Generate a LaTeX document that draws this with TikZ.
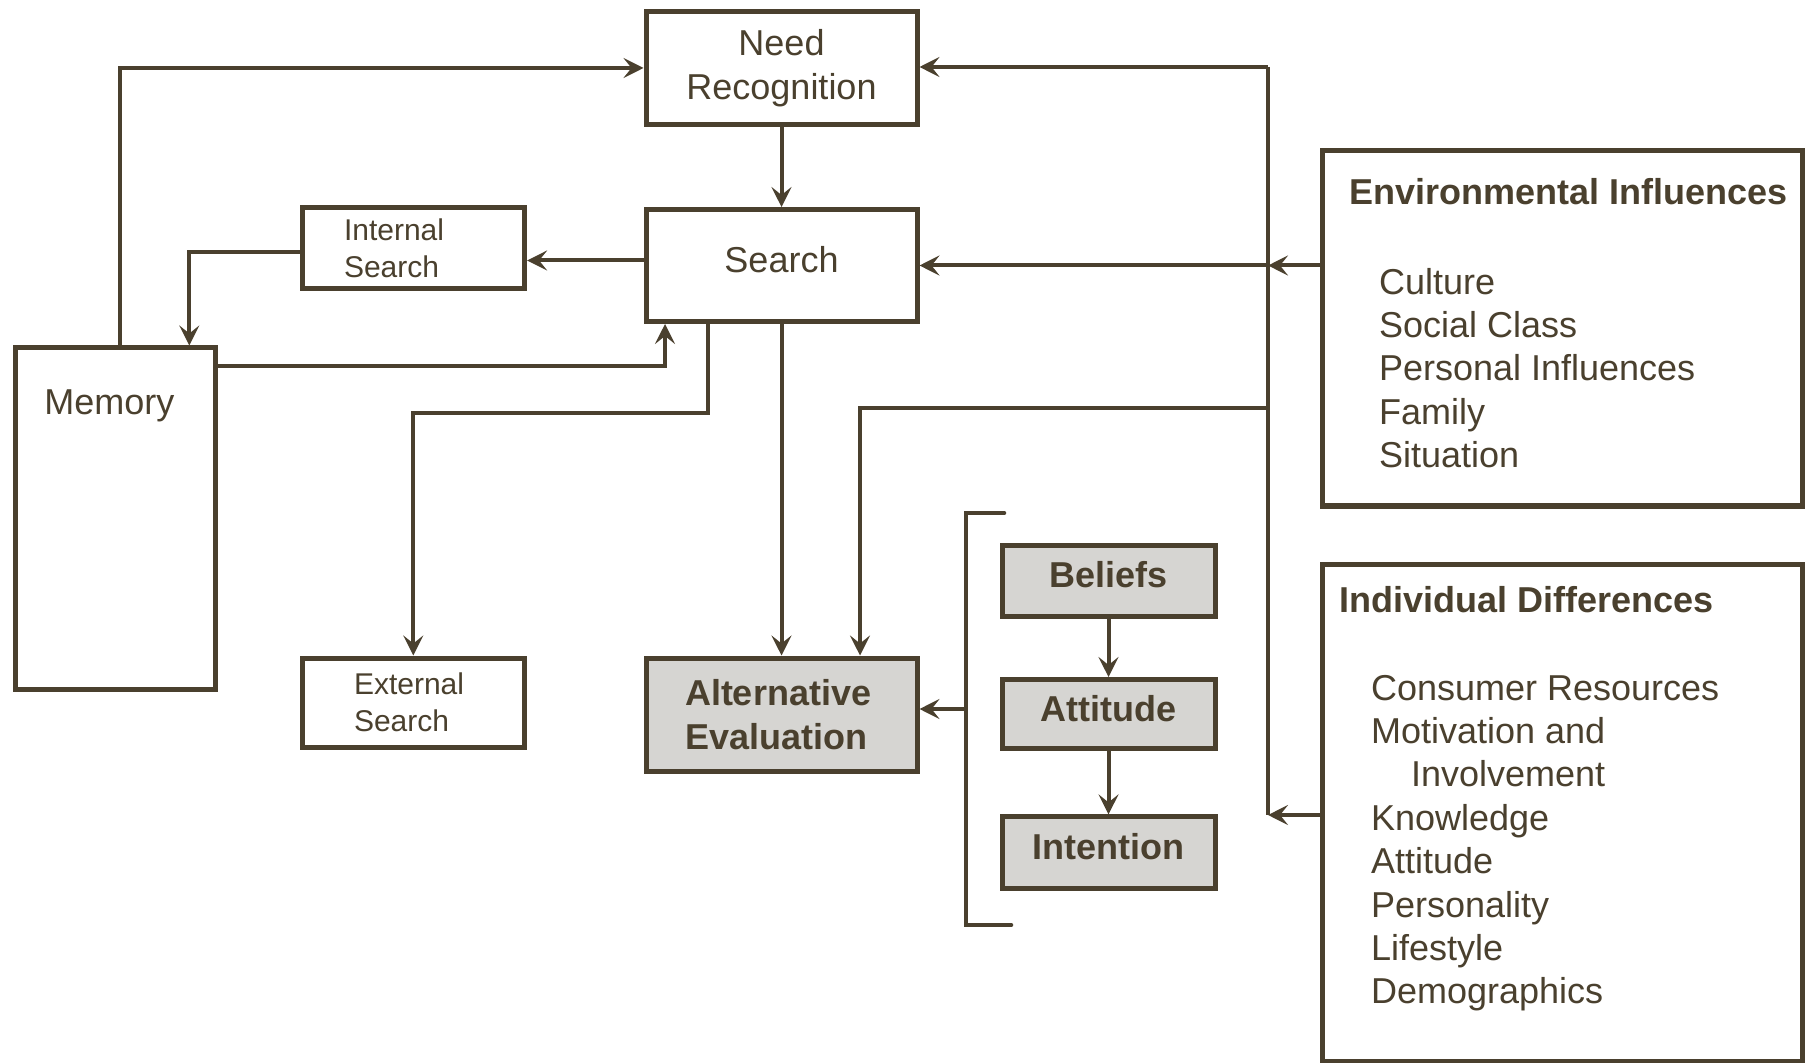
\documentclass[tikz,border=0pt]{standalone}
\usepackage{fontspec}
\setmainfont{Liberation Sans}
\usetikzlibrary{arrows.meta,calc,positioning}
\definecolor{Ink}{RGB}{74,64,46}
\definecolor{Shade}{RGB}{214,213,210}

\begin{document}
\begin{tikzpicture}[x=0.5pt, y=-0.5pt, >={Stealth[length=10pt,width=10pt,inset=4pt]},
       color=Ink, line width=2pt,
       every node/.style={font=\fontsize{18}{22}\selectfont, inner sep=0pt},
       stage/.style 2 args = {rectangle, draw, line width=2.5pt,
                              minimum width=#1, minimum height=#2},
       small/.style = {font=\fontsize{15}{18.5}\selectfont},
       shaded/.style = {fill=Shade, font=\fontsize{18}{22}\selectfont\bfseries},
       heading/.style = {anchor=west, font=\fontsize{18}{22}\selectfont\bfseries},
       factors/.style = {anchor=north west, align=left, font=\fontsize{18}{21.7}\selectfont}]
	%% Canvas
	\fill[white] (0,0) rectangle (1808,1063);
	\useasboundingbox (0,0) rectangle (1808,1063);

	%% Decision stages
	\node [stage={135.5pt}{56.5pt}, align=center, text depth=4pt] (need) at (781.5,68) {Need\\Recognition};
	\node [stage={135.5pt}{56pt}, text depth=6pt, below=40pt of need] (search) {Search};
	\node [stage={135.5pt}{56.5pt}, shaded, text width=96.5pt, inner xsep=19.5pt, align=left]
	      (alteval) at (781.5,714.5) {Alternative\\Evaluation};

	%% Search branches
	\node [stage={111.3pt}{40.3pt}, small, text width=69.3pt, inner xsep=21pt, align=left]
	      (internal) at (413.3,247.8) {Internal\\Search};
	\node [stage={111.3pt}{44.5pt}, small, text width=59.3pt, inner xsep=26pt, align=left]
	      (external) at (413.3,702.5) {External\\Search};

	%% Memory
	\node [stage={100.3pt}{170.8pt}] (memory) at (115.3,518.8) {};
	\node (memtext) at ($(memory.north)+(-6,60)$) {Memory};

	%% Beliefs, attitude, intention
	\node [stage={106.5pt}{35.5pt}, shaded, text depth=6pt] (beliefs) at (1108.5,580.5) {Beliefs};
	\node [stage={106.5pt}{34.6pt}, shaded, text depth=6pt, below=29.25pt of beliefs] (attitude) {Attitude};
	\node [stage={106.5pt}{35.8pt}, shaded, text depth=6pt, below=31.6pt of attitude] (intention) {Intention};

	%% Influences
	\node [stage={240pt}{177.5pt}] (envinf) at (1562,328.5) {};
	\node [heading] (envtitle) at (1347,191.4) {Environmental Influences};
	\node [factors] (envlist) at (1377,266)
	      {Culture\\Social Class\\Personal Influences\\Family\\Situation};

	\node [stage={240pt}{248.5pt}] (indiff) at (1562,812.5) {};
	\node [heading] (indtitle) at (1337.5,599.6) {Individual Differences};
	\node [factors] (indlist) at (1369,673)
	      {Consumer Resources\\Motivation and\\\hspace*{20pt}Involvement\\Knowledge\\Attitude\\Personality\\Lifestyle\\Demographics};

	%% Bracket
	\coordinate (brtop) at (1004,513);
	\coordinate (brbot) at (1011,925);
	\coordinate (brmid) at (966,709);
	\draw [line width=2.3pt, line cap=round] (brtop) -| (brmid) |- (brbot);

	%% Feedback line
	\coordinate (fbtop) at (1268,67);
	\coordinate (fbbot) at (1268,815);
	\coordinate (fbmid) at (1268,408);
	\draw (fbtop) -- (fbbot);

	%% Paths
	\draw[->] (need) -- (search);
	\draw[->] (search) -- (alteval);
	\draw[->] (fbtop) -- (need.east |- fbtop);
	\draw[->] (envinf.west |- search.east) -- (search.east -| fbtop);
	\draw[->] (search.east -| fbtop) -- (search.east);
	\draw[->] (indiff.west |- fbbot) -- (fbbot);
	\draw[->] (fbmid) -| ($(alteval.north)+(78.5,0)$);
	\path ($(search.west)+(0,-5)$) coordinate (sw);
	\draw[->] (sw) -- (sw -| internal.east);
	\draw[->] ($(internal.west)+(0,4)$) -| ($(memory.north)+(74,0)$);
	\draw[->] ($(memory.north)+(5,0)$) |- (need.west);
	\draw[->] ($(memory.north east)+(0,21)$) -| ($(search.south)+(-116.5,0)$);
	\draw[->] ($(search.south)+(-73.5,0)$) -- ++(0,88.6) -| (external.north);
	\draw[->] (brmid) -- (brmid -| alteval.east);
	\draw[->] (beliefs) -- (attitude);
	\draw[->] (attitude) -- (intention);
\end{tikzpicture}
\end{document}
